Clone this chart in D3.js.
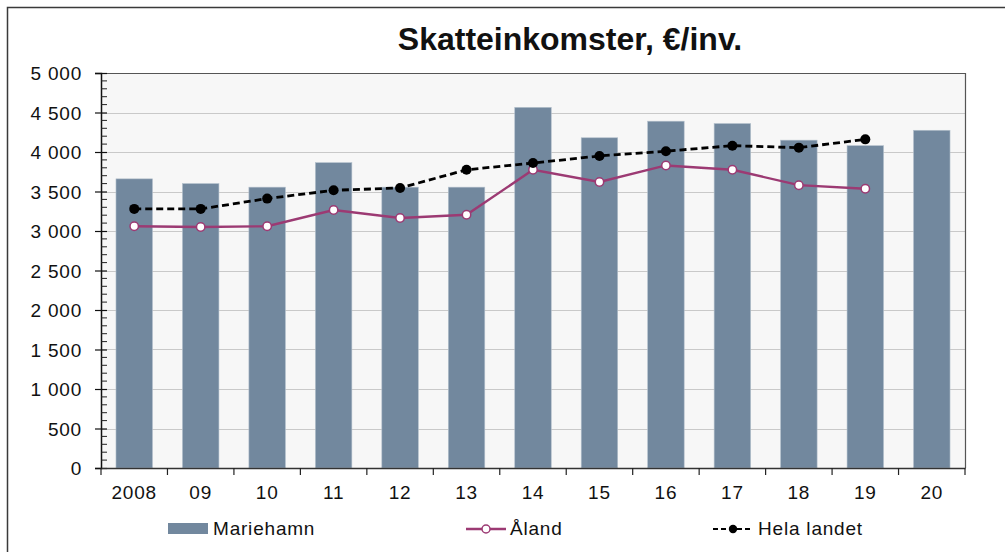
<!DOCTYPE html>
<html>
<head>
<meta charset="utf-8">
<title>Skatteinkomster</title>
<script src="https://cdn.jsdelivr.net/npm/d3@7/dist/d3.min.js"></script>
<style>
  body { margin: 0; background: #fff; }
  text { font-family: "Liberation Sans", Arial, sans-serif; fill: #111; }
  .lbl { font-size: 19px; letter-spacing: 0.8px; }
</style>
</head>
<body>
<div id="chart"></div>
<script>
// data
var years = ["2008", "09", "10", "11", "12", "13", "14", "15", "16", "17", "18", "19", "20"];
var mariehamn = [3660, 3600, 3555, 3865, 3555, 3555, 4565, 4180, 4390, 4360, 4150, 4080, 4275];
var aland = [3060, 3050, 3060, 3265, 3165, 3205, 3775, 3620, 3830, 3775, 3580, 3535];
var helaLandet = [3280, 3280, 3410, 3515, 3545, 3775, 3860, 3950, 4010, 4080, 4055, 4160];
var yTicks = [0, 500, 1000, 1500, 2000, 2500, 3000, 3500, 4000, 4500, 5000];

var W = 1005, H = 552;
var m = { left: 101, top: 73, right: 965, bottom: 468 };

var svg = d3.select("#chart").append("svg")
  .attr("width", W).attr("height", H);

// outer frame
svg.append("path")
  .attr("d", "M7.5," + H + "V7.5H" + W)
  .attr("fill", "none").attr("stroke", "#3a3a3a").attr("stroke-width", 1.5);

svg.append("text")
  .attr("x", 570).attr("y", 50)
  .attr("text-anchor", "middle")
  .style("font-size", "32px").style("font-weight", "bold")
  .text("Skatteinkomster, €/inv.");

var x = d3.scaleBand().domain(years).range([m.left, m.right]).paddingInner(0).paddingOuter(0);
var y = d3.scaleLinear().domain([0, 5000]).range([m.bottom, m.top]);

// plot background
svg.append("rect")
  .attr("x", m.left).attr("y", m.top)
  .attr("width", m.right - m.left).attr("height", m.bottom - m.top)
  .attr("fill", "#f7f7f7");

// gridlines
svg.append("g").selectAll("line")
  .data(yTicks.filter(function(d) { return d > 0 && d < 5000; }))
  .enter().append("line")
  .attr("x1", m.left).attr("x2", m.right)
  .attr("y1", function(d) { return Math.round(y(d)) + 0.5; })
  .attr("y2", function(d) { return Math.round(y(d)) + 0.5; })
  .attr("stroke", "#c9c9c9").attr("stroke-width", 1);

// frame top + right
svg.append("path")
  .attr("d", "M" + m.left + "," + (m.top + 0.5) + "H" + (m.right + 0.5) + "V" + m.bottom)
  .attr("fill", "none").attr("stroke", "#555").attr("stroke-width", 1.2);

// bars
var bw = 36.5;
svg.append("g").selectAll("rect")
  .data(mariehamn)
  .enter().append("rect")
  .attr("x", function(d, i) { return x(years[i]) + x.bandwidth() / 2 - bw / 2; })
  .attr("y", function(d) { return y(d); })
  .attr("width", bw)
  .attr("height", function(d) { return y(0) - y(d); })
  .attr("fill", "#72889e")
  .attr("stroke", "#b4c0cc").attr("stroke-width", 0.6);

// y axis
var yAxis = d3.axisLeft(y).tickValues(yTicks).tickSize(6).tickPadding(13)
  .tickFormat(function(d) { return d3.format(",")(d).replace(",", " "); });
var gy = svg.append("g").attr("transform", "translate(" + m.left + ",0)").call(yAxis);
gy.attr("font-size", null).attr("font-family", null);
gy.select(".domain").attr("stroke", "#111").attr("stroke-width", 1.5);
gy.selectAll(".tick line").attr("stroke", "#111").attr("x2", 6).attr("x1", -6).attr("stroke-width", 1.2);
gy.selectAll("text").attr("class", "lbl").attr("fill", "#111").attr("dy", "0.36em");

// minor ticks on y (inside)
var minor = d3.range(0, 5001, 100).filter(function(d) { return d % 500 !== 0; });
svg.append("g").selectAll("line")
  .data(minor).enter().append("line")
  .attr("x1", m.left).attr("x2", m.left + 6)
  .attr("y1", function(d) { return y(d); }).attr("y2", function(d) { return y(d); })
  .attr("stroke", "#222").attr("stroke-width", 1);

// x axis
var gx = svg.append("g").attr("transform", "translate(0," + m.bottom + ")")
  .call(d3.axisBottom(x).tickSize(0).tickPadding(18));
gx.attr("font-size", null).attr("font-family", null);
gx.select(".domain").attr("stroke", "#333").attr("stroke-width", 1.5);
gx.selectAll("text").attr("class", "lbl").attr("fill", "#111");
// category separators
var edges = years.map(function(d) { return x(d); }).concat([m.right]);
gx.append("g").selectAll("line")
  .data(edges).enter().append("line")
  .attr("x1", function(d) { return d; }).attr("x2", function(d) { return d; })
  .attr("y1", 0).attr("y2", 7)
  .attr("stroke", "#222").attr("stroke-width", 1.2);

var cx = function(d, i) { return x(years[i]) + x.bandwidth() / 2; };

// Åland
svg.append("path")
  .datum(aland)
  .attr("d", d3.line().x(cx).y(function(d) { return y(d); }))
  .attr("fill", "none").attr("stroke", "#9c3a73").attr("stroke-width", 2.4);
svg.append("g").selectAll("circle")
  .data(aland).enter().append("circle")
  .attr("cx", cx).attr("cy", function(d) { return y(d); })
  .attr("r", 4.2).attr("fill", "#fff").attr("stroke", "#9c3a73").attr("stroke-width", 1.5);

// Hela landet
svg.append("path")
  .datum(helaLandet)
  .attr("d", d3.line().x(cx).y(function(d) { return y(d); }))
  .attr("fill", "none").attr("stroke", "#000").attr("stroke-width", 2.8)
  .attr("stroke-dasharray", "7,4");
svg.append("g").selectAll("circle")
  .data(helaLandet).enter().append("circle")
  .attr("cx", cx).attr("cy", function(d) { return y(d); })
  .attr("r", 5).attr("fill", "#000");

// legend
var lg = svg.append("g").attr("class", "legend");
lg.append("rect").attr("x", 168).attr("y", 523).attr("width", 40).attr("height", 11).attr("fill", "#72889e");
lg.append("text").attr("class", "lbl").attr("x", 213).attr("y", 535).text("Mariehamn");

lg.append("line").attr("x1", 466).attr("x2", 506).attr("y1", 529).attr("y2", 529)
  .attr("stroke", "#9c3a73").attr("stroke-width", 2.4);
lg.append("circle").attr("cx", 486).attr("cy", 529).attr("r", 4)
  .attr("fill", "#fff").attr("stroke", "#9c3a73").attr("stroke-width", 1.5);
lg.append("text").attr("class", "lbl").attr("x", 510).attr("y", 535).text("Åland");

lg.append("line").attr("x1", 713).attr("x2", 753).attr("y1", 529).attr("y2", 529)
  .attr("stroke", "#000").attr("stroke-width", 2.2).attr("stroke-dasharray", "5,3");
lg.append("circle").attr("cx", 733).attr("cy", 529).attr("r", 4.2).attr("fill", "#000");
lg.append("text").attr("class", "lbl").attr("x", 758).attr("y", 535).text("Hela landet");
</script>
</body>
</html>
